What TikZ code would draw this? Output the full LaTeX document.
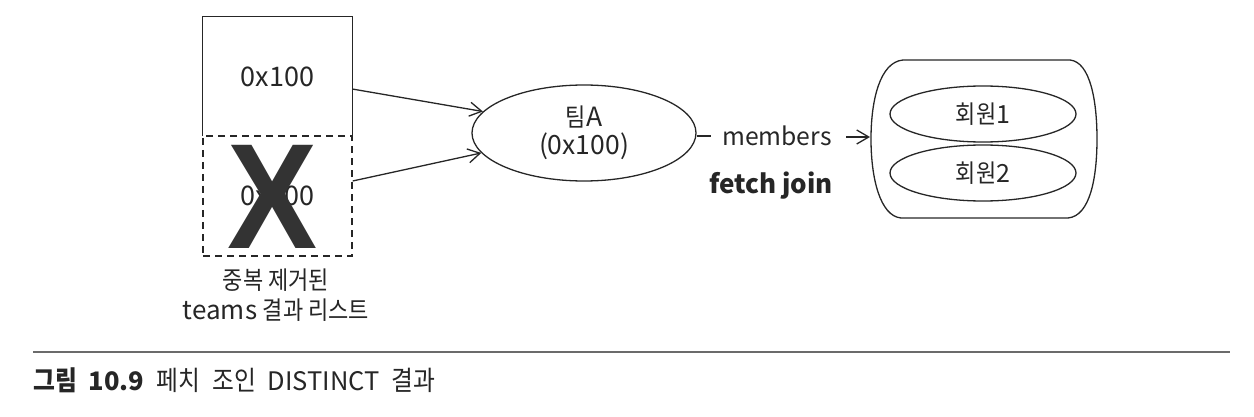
\documentclass[tikz,border=0pt]{standalone}
\usepackage{fontspec}
\setmainfont{Noto Sans CJK KR}
\newfontfamily\krfont[FakeStretch=0.88]{Noto Sans CJK KR}
\newfontfamily\xfont{Liberation Sans}
\newcommand\latsz[2]{{\fontsize{#1}{#1}\selectfont #2}}
\newcommand\ko[2]{{\krfont\fontsize{#1}{#1}\selectfont #2}}
\usetikzlibrary{arrows.meta,shapes.geometric}
\begin{document}
\begin{tikzpicture}[x=1pt,y=-1pt,
  every node/.style={font=\fontsize{26}{28}\selectfont, text=black!85},
  ln/.style={line width=1.3pt, draw=black!85},
  arr/.style={ln, -{Straight Barb[length=12pt,width=14pt,line width=1.3pt]}},
  boxnode/.style={rectangle, minimum width=149pt, inner sep=0pt},
  ell/.style={ellipse, ln, inner sep=0pt, align=center}
]
\useasboundingbox (0,0) rectangle (1254,417);
% boxes
\node[boxnode, minimum height=119pt] (top) at (277.5,76.5) {\latsz{27}{0x100}};
\node[boxnode, minimum height=120pt, draw=black!85, line width=1.3pt, dash pattern=on 7pt off 5pt] (dup) at (277.5,196) {\latsz{27}{0x100}};
\draw[ln] (top.south west) -- (top.north west) -- (top.north east) -- (top.south east);
\node[font=\xfont\bfseries\fontsize{150}{150}\selectfont, text=black!80, inner sep=0pt, xscale=0.9] (cross) at (273,197) {X};
\node[align=center, font=\fontsize{26}{30}\selectfont] (cap) at (276,295) {\ko{25}{중복 제거된}\\teams \ko{25}{결과 리스트}};
% team
\node[ell, minimum width=224pt, minimum height=96pt, font=\fontsize{26.5}{28}\selectfont] (team) at (584,133) {\ko{25}{팀}A\\(0x100)};
\draw[arr] ([yshift=-12.5pt]top.east) -- (team.168);
\draw[arr] ([yshift=15pt]dup.east) -- (team.191);
% members
\coordinate (dashend) at (711,136);
\draw[ln] (team.east |- dashend) -- (dashend);
\node[font=\fontsize{24.7}{28}\selectfont] (mem) at (777,136) {members};
\node[font=\bfseries\fontsize{26}{28}\selectfont] (fj) at (771,186) {fetch join};
% container
\draw[ln] (903,60) -- (1070,60) .. controls (1090,62) and (1097,100) .. (1097,139)
  .. controls (1097,178) and (1090,216) .. (1068,218) -- (901,218)
  .. controls (880,216) and (871,178) .. (871,139)
  .. controls (871,100) and (880,62) .. (903,60) -- cycle;
\coordinate (cw) at (870,137);
\coordinate (ms) at (846,137);
\draw[arr] (ms) -- (cw);
\node[ell, minimum width=186pt, minimum height=56pt, font=\fontsize{25}{28}\selectfont] (m1) at (983,114) {\ko{25}{회원}1};
\node[ell, minimum width=186pt, minimum height=56pt, font=\fontsize{25}{28}\selectfont] (m2) at (983,173) {\ko{25}{회원}2};
% caption
\coordinate (la) at (33,352);
\coordinate (lb) at (1230,352);
\draw[line width=2pt, draw=black!58] (la) -- (lb);
\node[anchor=west, inner sep=0pt, font=\fontsize{25.5}{28}\selectfont] (fig) at (33,380)
  {\textbf{\ko{27}{그림}\hspace{12pt}10.9}\hspace{12pt}\ko{27}{페치}\hspace{12pt}\ko{27}{조인}\hspace{12pt}DISTINCT\hspace{12pt}\ko{27}{결과}};
\end{tikzpicture}
\end{document}
